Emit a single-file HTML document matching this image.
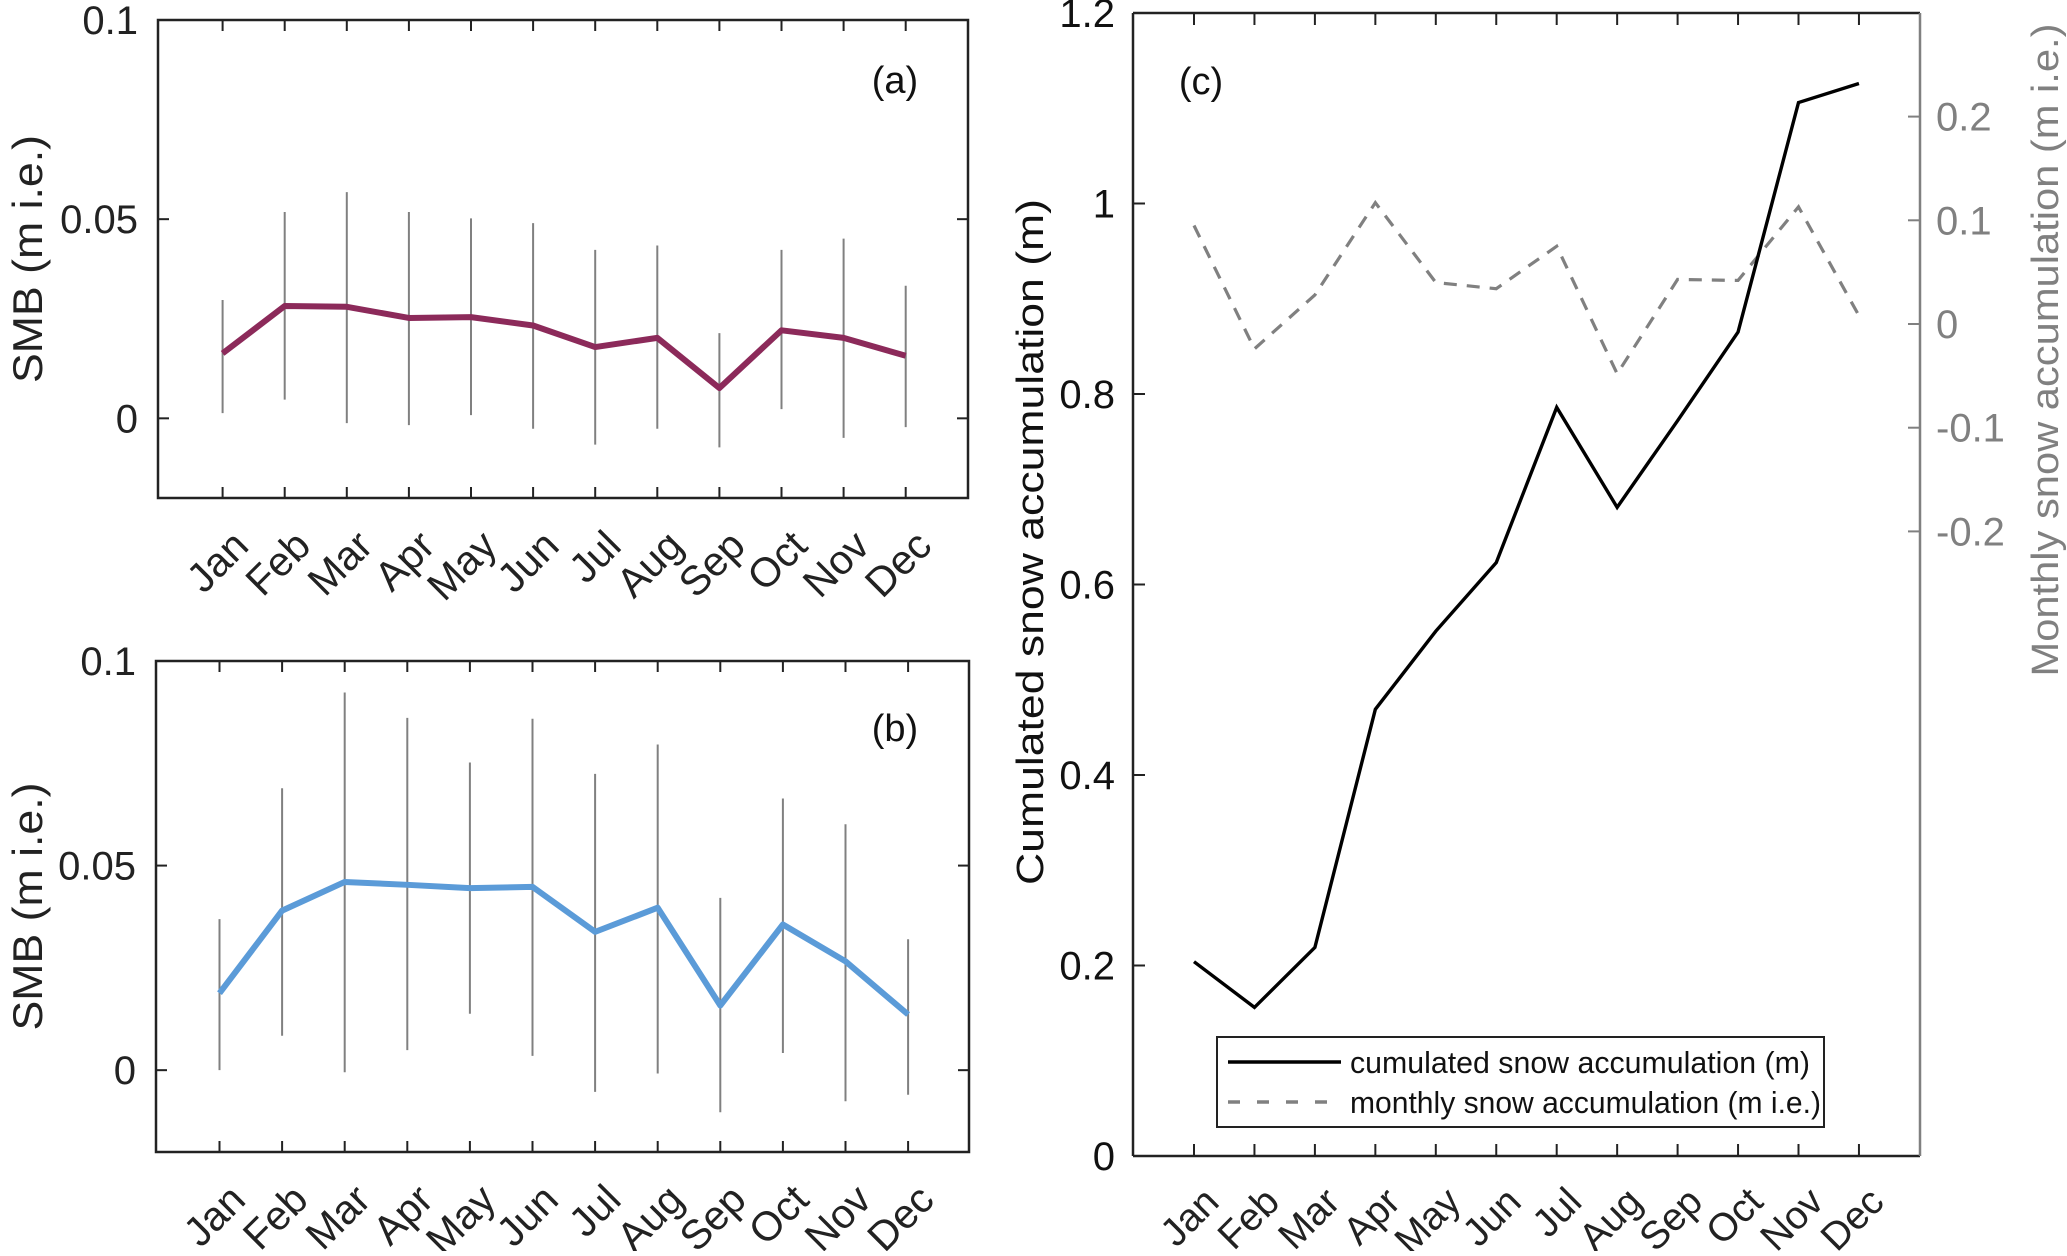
<!DOCTYPE html>
<html><head><meta charset="utf-8"><style>
html,body{margin:0;padding:0;background:#fff;}
svg text{font-family:"Liberation Sans",Arial,sans-serif;}
</style></head><body>
<svg id="fig" width="2067" height="1251" viewBox="0 0 2067 1251" xmlns="http://www.w3.org/2000/svg">
<rect width="2067" height="1251" fill="#fff"/>
<g id="pa"></g>
<g id="pb"></g>
<g id="pc"></g>
</svg>
<script>
const months = ["Jan","Feb","Mar","Apr","May","Jun","Jul","Aug","Sep","Oct","Nov","Dec"];
const smbA = [0.0163,0.0282,0.028,0.0252,0.0254,0.0233,0.0179,0.0202,0.0076,0.0221,0.0202,0.0157];
const smbAHi = [0.0297,0.0518,0.0568,0.0518,0.0502,0.049,0.0423,0.0434,0.0214,0.0423,0.0451,0.0333];
const smbALo = [0.0013,0.0047,-0.0012,-0.0017,0.0008,-0.0026,-0.0066,-0.0026,-0.0073,0.0023,-0.0049,-0.0022];
const smbB = [0.0188,0.039,0.046,0.0453,0.0445,0.0448,0.0338,0.0397,0.0158,0.0356,0.0266,0.0136];
const smbBHi = [0.0369,0.0689,0.0923,0.0861,0.0752,0.0859,0.0724,0.0796,0.0421,0.0664,0.0601,0.032];
const smbBLo = [0,0.0084,-0.0005,0.0049,0.0138,0.0035,-0.0053,-0.0008,-0.0103,0.0042,-0.0076,-0.006];
const smbTicks = [0,0.05,0.1];
const smbTickLabels = ["0","0.05","0.1"];
const cumul = [0.204,0.156,0.219,0.469,0.551,0.623,0.786,0.681,0.772,0.865,1.106,1.126];
const monthly = [0.095,-0.024,0.028,0.117,0.040,0.034,0.075,-0.048,0.043,0.042,0.113,0.008];
const leftTicks = [0,0.2,0.4,0.6,0.8,1,1.2];
const leftTickLabels = ["0","0.2","0.4","0.6","0.8","1","1.2"];
const rightTicks = [-0.2,-0.1,0,0.1,0.2];
const rightTickLabels = ["-0.2","-0.1","0","0.1","0.2"];

const NS="http://www.w3.org/2000/svg";
function mk(parent,tag,attrs,txt){const e=document.createElementNS(NS,tag);for(const k in attrs)e.setAttribute(k,attrs[k]);if(txt!==undefined)e.textContent=txt;parent.appendChild(e);return e;}

function smbPanel(g,box,vals,hi,lo,color,letter,prefix){
  const L=box.l,R=box.r,T=box.t,B=box.b;
  const x0=box.x0,dx=box.dx;
  const xs=i=>x0+i*dx;
  const ys=v=>B-(v-(-0.02))/(0.12)*(B-T);
  for(let i=0;i<months.length;i++){
    const e=mk(g,'line',{x1:xs(i),x2:xs(i),y1:ys(hi[i]),y2:ys(lo[i]),stroke:'#808080','stroke-width':2});
    
    
  }
  const pts=vals.map((v,i)=>xs(i)+','+ys(v)).join(' ');
  const pl=mk(g,'polyline',{points:pts,fill:'none',stroke:color,'stroke-width':6,'stroke-linejoin':'round'});
  
  
  const fr=mk(g,'rect',{x:L,y:T,width:R-L,height:B-T,fill:'none',stroke:'#222','stroke-width':2.5});
  
  
  for(let i=0;i<months.length;i++){
    mk(g,'line',{x1:xs(i),x2:xs(i),y1:B,y2:B-11,stroke:'#222','stroke-width':2});
    mk(g,'line',{x1:xs(i),x2:xs(i),y1:T,y2:T+11,stroke:'#222','stroke-width':2});
    const t=mk(g,'text',{x:0,y:0,'font-size':41,'text-anchor':'end',fill:'#222',transform:`translate(${xs(i)+28},${B+50}) rotate(-45)`},months[i]);
    
    
  }
  smbTicks.forEach((v,i)=>{
    mk(g,'line',{x1:L,x2:L+11,y1:ys(v),y2:ys(v),stroke:'#222','stroke-width':2});
    mk(g,'line',{x1:R,x2:R-11,y1:ys(v),y2:ys(v),stroke:'#222','stroke-width':2});
    const t=mk(g,'text',{x:L-20,y:ys(v)+14,'font-size':40,'text-anchor':'end',fill:'#222'},smbTickLabels[i]);
    
    
  });
  const cy=(T+B)/2;
  const yl=mk(g,'text',{x:0,y:0,'font-size':42,'text-anchor':'middle',fill:'#222',transform:`translate(42,${cy}) rotate(-90)`,textLength:248,lengthAdjust:'spacingAndGlyphs'},'SMB (m i.e.)');
  
  
  const pt=mk(g,'text',{x:895,y:box.lety,'font-size':38,'text-anchor':'middle',fill:'#111'},letter);
  
  
}
smbPanel(document.getElementById('pa'),{l:158,r:968,t:20,b:498,x0:222.6,dx:62.1,lety:93},smbA,smbAHi,smbALo,'#8c2a5a','(a)','a');
smbPanel(document.getElementById('pb'),{l:156,r:969,t:661,b:1152,x0:219.5,dx:62.6,lety:741},smbB,smbBHi,smbBLo,'#5b9bd8','(b)','b');

(function(){
  const g=document.getElementById('pc');
  const L=1133,R=1920,T=13,B=1156,x0=1194,dx=60.45;
  const xs=i=>x0+i*dx;
  const yl=v=>B-v/1.2*(B-T);
  const yr=v=>324-v/0.1*103.7;
  const dpts=monthly.map((v,i)=>xs(i)+','+yr(v)).join(' ');
  const d=mk(g,'polyline',{points:dpts,fill:'none',stroke:'#808080','stroke-width':3.2,'stroke-dasharray':'13,10'});
  
  
  const cpts=cumul.map((v,i)=>xs(i)+','+yl(v)).join(' ');
  const c=mk(g,'polyline',{points:cpts,fill:'none',stroke:'#000','stroke-width':3.4});
  
  
  mk(g,'line',{x1:L,x2:R,y1:T,y2:T,stroke:'#222','stroke-width':2.5});
  mk(g,'line',{x1:L,x2:R,y1:B,y2:B,stroke:'#222','stroke-width':2.5});
  const la=mk(g,'line',{x1:L,x2:L,y1:T,y2:B,stroke:'#222','stroke-width':2.5});
  
  
  const ra=mk(g,'line',{x1:R,x2:R,y1:T,y2:B,stroke:'#808080','stroke-width':2.5});
  
  
  for(let i=0;i<months.length;i++){
    mk(g,'line',{x1:xs(i),x2:xs(i),y1:B,y2:B-12,stroke:'#222','stroke-width':2});
    mk(g,'line',{x1:xs(i),x2:xs(i),y1:T,y2:T+12,stroke:'#222','stroke-width':2});
    const t=mk(g,'text',{x:0,y:0,'font-size':39,'text-anchor':'end',fill:'#222',transform:`translate(${xs(i)+27},${B+48}) rotate(-45)`},months[i]);
    
    
  }
  leftTicks.forEach((v,i)=>{
    mk(g,'line',{x1:L,x2:L+12,y1:yl(v),y2:yl(v),stroke:'#222','stroke-width':2});
    const t=mk(g,'text',{x:L-18,y:yl(v)+14,'font-size':40,'text-anchor':'end',fill:'#111'},leftTickLabels[i]);
    
    
  });
  rightTicks.forEach((v,i)=>{
    mk(g,'line',{x1:R,x2:R-12,y1:yr(v),y2:yr(v),stroke:'#808080','stroke-width':2});
    const t=mk(g,'text',{x:R+16,y:yr(v)+14,'font-size':40,'text-anchor':'start',fill:'#808080'},rightTickLabels[i]);
    
    
  });
  const ylab=mk(g,'text',{x:0,y:0,'font-size':38,'text-anchor':'middle',fill:'#111',transform:`translate(1043,542) rotate(-90)`,textLength:686,lengthAdjust:'spacingAndGlyphs'},'Cumulated snow accumulation (m)');
  
  
  const rlab=mk(g,'text',{x:0,y:0,'font-size':38,'text-anchor':'middle',fill:'#808080',transform:`translate(2058,350) rotate(-90)`,textLength:653,lengthAdjust:'spacingAndGlyphs'},'Monthly snow accumulation (m i.e.)');
  
  
  const pl=mk(g,'text',{x:1201,y:94,'font-size':38,'text-anchor':'middle',fill:'#111'},'(c)');
  
  
  const lg=mk(g,'g',{});
  
  
  mk(lg,'rect',{x:1217,y:1037,width:607,height:90,fill:'#fff',stroke:'#222','stroke-width':2});
  const e1=mk(lg,'g',{});
  
  
  mk(e1,'line',{x1:1228,x2:1341,y1:1062,y2:1062,stroke:'#000','stroke-width':3.5});
  mk(e1,'text',{x:1350,y:1073,'font-size':31,fill:'#111',textLength:460,lengthAdjust:'spacingAndGlyphs'},'cumulated snow accumulation (m)');
  const e2=mk(lg,'g',{});
  
  
  mk(e2,'line',{x1:1228,x2:1330,y1:1102,y2:1102,stroke:'#808080','stroke-width':3.5,'stroke-dasharray':'12,17'});
  mk(e2,'text',{x:1350,y:1113,'font-size':31,fill:'#111',textLength:471,lengthAdjust:'spacingAndGlyphs'},'monthly snow accumulation (m i.e.)');
})();
</script>
</body></html>
